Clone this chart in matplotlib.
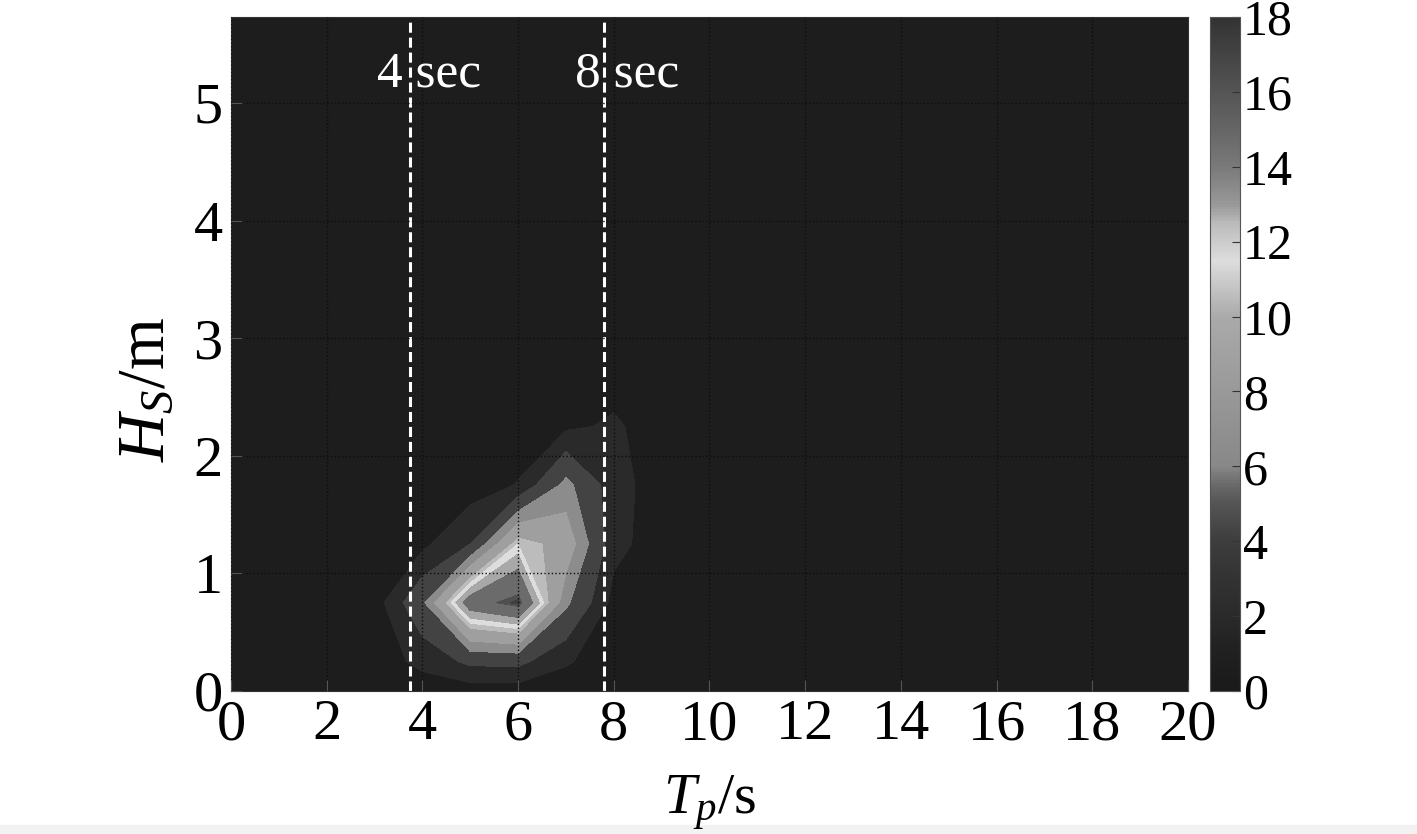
# Joint distribution of Hs and Tp (filled contour)

import numpy as np
import matplotlib
matplotlib.use('Agg')
import matplotlib.pyplot as plt
from matplotlib.colors import LinearSegmentedColormap, Normalize
from matplotlib.cm import ScalarMappable
from matplotlib.patches import Rectangle

plt.rcParams['font.family'] = ['Liberation Serif', 'DejaVu Serif']
plt.rcParams['mathtext.fontset'] = 'custom'
plt.rcParams['mathtext.rm'] = 'Liberation Serif'
plt.rcParams['mathtext.it'] = 'Liberation Serif:italic'

# grid of the occurrence table
tp = np.arange(0, 21, 1)
hs = np.array([0, 0.25, 0.75, 1.25, 1.75, 2.25, 2.75, 3.25, 3.75, 4.25, 4.75, 5.25, 5.75])

# non-zero part of the table, Tp = 3..9 s, Hs = 0.25..2.25 m
tp_sub = [3, 4, 5, 6, 7, 8, 9]
hs_sub = [0.25, 0.75, 1.25, 1.75, 2.25]
z_sub = [
    [0.0, 1.5, 3.5, 3.6, 1.2, 0.0, 0.0],
    [0.0, 5.0, 15.0, 16.8, 6.0, 0.3, 0.0],
    [0.0, 0.5, 3.0, 11.0, 9.0, 1.6, 0.0],
    [0.0, 0.0, 0.0, 1.1, 6.2, 1.8, 0.0],
    [0.0, 0.0, 0.0, 0.0, 0.6, 1.3, 0.0],
]

# contour levels and gray colour map (value, gray level)
levels = [0, 1, 3, 5.5, 7.5, 10, 11, 12, 13.5, 16, 16.5, 18]
cmap_vals = [0, 1, 2, 3, 4, 5, 5.5, 6, 8, 10, 10.5, 11.5, 12, 12.5, 13, 14, 15, 16, 17, 18]
cmap_gray = [26, 32, 42, 51, 61, 85, 106, 136, 153, 170, 187, 221, 204, 187, 153, 122, 102, 85, 68, 51]

vline_x = [3.75, 7.8]
vline_text = ['4 sec', '8 sec']
text_x = [4.15, 8.28]

Z = np.zeros((len(hs), len(tp)))
for i, h in enumerate(hs_sub):
    for j, t in enumerate(tp_sub):
        Z[list(hs).index(h), list(tp).index(t)] = z_sub[i][j]

cols = [(v / 18, (g / 255,) * 3) for v, g in zip(cmap_vals, cmap_gray)]
cmap = LinearSegmentedColormap.from_list('wave', cols, N=256)
norm = Normalize(0, 18)

fig = plt.figure(figsize=(14.17, 8.34), dpi=100)
ax = fig.add_axes([0.163, 0.1715, 0.6754, 0.808])
ax.set_facecolor('#1a1a1a')

ax.contourf(tp, hs, Z, levels=levels, cmap=cmap, norm=norm, extend='max')

ax.grid(True, color='#0d0d0d', linestyle=':', linewidth=1.0)
ax.set_axisbelow(False)

for x, s, tx in zip(vline_x, vline_text, text_x):
    ax.axvline(x, color='white', linewidth=2.2, dashes=(3.3, 1.6))
    ax.text(tx, 5.24, s, color='white', fontsize=37, ha='center', va='center')

ax.set_xlim(0, 20)
ax.set_ylim(0, 5.73)
ax.set_xticks(np.arange(0, 21, 2))
ax.set_yticks(np.arange(0, 6, 1))
ax.tick_params(direction='in', length=8, color='#555555', labelsize=42, pad=6)
for sp in ax.spines.values():
    sp.set_color('#333333')

ax.set_xlabel(r'$T_p$/s', fontsize=42, labelpad=16)
ax.set_ylabel(r'$H_S$/m', fontsize=48)
ax.yaxis.set_label_coords(-0.056, 0.447)

cax = fig.add_axes([0.854, 0.1715, 0.021, 0.808])
cb = fig.colorbar(ScalarMappable(norm=norm, cmap=cmap), cax=cax)
cb.set_ticks(np.arange(0, 19, 2))
cb.ax.tick_params(direction='in', length=6, color='#333333', labelsize=36, pad=2)
cb.outline.set_edgecolor('#555555')

fig.patches.append(Rectangle((0, 0), 1, 0.011, transform=fig.transFigure,
                             color='#f2f2f2', zorder=-1))

fig.savefig('out.png', dpi=100)
